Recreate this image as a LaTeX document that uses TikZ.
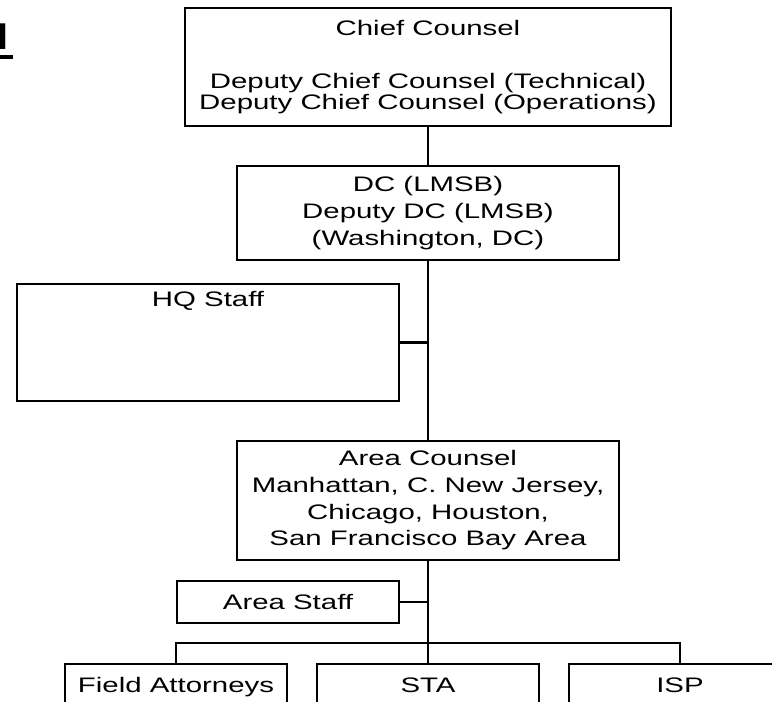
\documentclass[tikz,border=0pt]{standalone}
\usepackage{fontspec}
\usepackage{tikz}
\usetikzlibrary{calc}

\newfontfamily\orgfont{Liberation Sans}[FakeStretch=1.4]
\newcommand{\orgtext}{\orgfont\fontsize{15.75}{20}\selectfont}

\tikzset{
    unit/.style={draw, line width=1.6pt, align=center, inner sep=0pt, font=\orgtext},
    link/.style={line width=1.6pt}
}

\begin{document}
\begin{tikzpicture}[x=0.75pt, y=-0.75pt]
    \useasboundingbox (0,0) rectangle (772,702);
    \clip (0,0) rectangle (772,702);

    % Heading, cut off at the left edge
    \node[anchor=base east, inner sep=0pt, font=\orgfont\bfseries\fontsize{28}{30}\selectfont] (heading) at (13,50)
        {N\hspace{2.25pt}\llap{\rule[-6.75pt]{20pt}{3pt}}};

    % Draw the boxes of the chart
    \node[unit, minimum width=364.5pt, minimum height=88.5pt,
          font=\orgfont\fontsize{15.75}{16.3}\selectfont] (chief) at (428,67)
        {Chief Counsel\\[23.4pt]
         Deputy Chief Counsel (Technical)\\
         Deputy Chief Counsel (Operations)};
    \node[unit, minimum width=286.5pt, minimum height=70.5pt] (dc) at (428,213)
        {DC (LMSB)\\ Deputy DC (LMSB)\\ (Washington, DC)};
    \node[unit, anchor=north, minimum width=286.5pt, inner ysep=5pt,
          text height=11.5pt, text depth=66.25pt] (hq) at (208,283) {HQ Staff};
    \node[unit, minimum width=286.5pt, minimum height=89.25pt] (area) at (428,500.5)
        {Area Counsel\\ Manhattan, C. New Jersey,\\ Chicago, Houston,\\ San Francisco Bay Area};
    \node[unit, minimum width=166.5pt, minimum height=31.5pt] (areastaff) at (288,602) {Area Staff};

    % Bottom row, running off the page
    \node[unit, anchor=north, minimum width=166.5pt, inner ysep=9.5pt,
          text height=11.5pt, text depth=30pt] (field) at (176,663) {Field Attorneys};
    \node[unit, anchor=north, minimum width=166.5pt, inner ysep=9.5pt,
          text height=11.5pt, text depth=30pt] (sta) at (428,663) {STA};
    \node[unit, anchor=north, minimum width=166.5pt, inner ysep=9.5pt,
          text height=11.5pt, text depth=30pt] (isp) at (680,663) {ISP};

    % Connect them
    \coordinate (bar) at (428,643);
    \draw[link] (chief.south) -- (dc.north);
    \draw[link] (dc.south) -- (area.north);
    \draw[link] (hq.east) -- (hq.east -| dc.south);
    \draw[link] (area.south) -- (sta.north);
    \draw[link] (areastaff.east) -- (areastaff.east -| area.south);
    \draw[link] (field.north) |- (bar) -| (isp.north);
\end{tikzpicture}
\end{document}
